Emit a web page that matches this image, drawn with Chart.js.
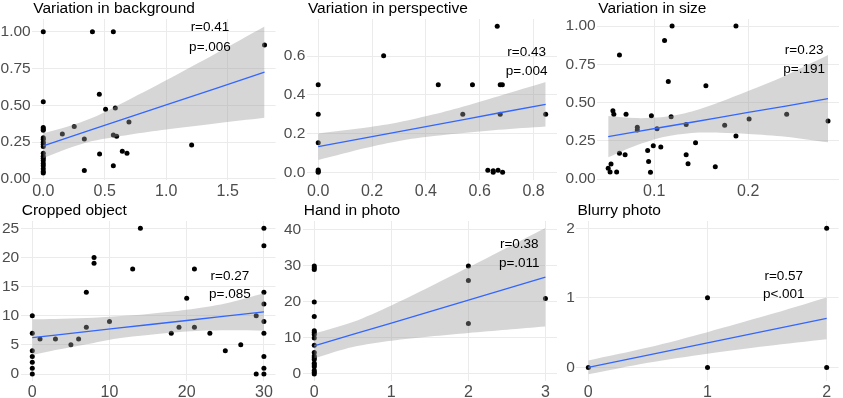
<!DOCTYPE html>
<html>
<head>
<meta charset="utf-8">
<script src="https://cdn.jsdelivr.net/npm/chart.js@4"></script>
<style>
  body { margin: 0; background: #fff; }
  #wrap { position: relative; width: 843px; height: 398px; }
  canvas { position: absolute; }
</style>
</head>
<body>
<div id="wrap">
  <canvas id="p1" width="280" height="199" style="left:0;top:0"></canvas>
  <canvas id="p2" width="281" height="199" style="left:280px;top:0"></canvas>
  <canvas id="p3" width="282" height="199" style="left:561px;top:0"></canvas>
  <canvas id="p4" width="280" height="199" style="left:0;top:199px"></canvas>
  <canvas id="p5" width="281" height="199" style="left:280px;top:199px"></canvas>
  <canvas id="p6" width="282" height="199" style="left:561px;top:199px"></canvas>
</div>
<script>
// --- Variation in background ---
const bgX = [0,0,0,0,0,0,0,0,0,0,0,0,0,0,0,0,0,0,0,
  0.155,0.252,0.334,0.334,0.40,0.456,0.458,0.507,0.57,0.57,0.57,0.586,0.597,0.643,0.681,0.697,1.207,1.80];
const bgY = [1.0,0.525,0.35,0.34,0.33,0.28,0.27,0.25,0.235,0.22,0.175,0.155,0.14,0.125,0.105,0.09,0.07,0.05,0.04,
  0.305,0.357,0.271,0.057,1.0,0.575,0.17,0.473,1.0,0.299,0.09,0.482,0.29,0.188,0.174,0.387,0.231,0.91];
const bgFitX = [0, 0.2, 0.4, 0.7, 1.0, 1.4, 1.8];
const bgFit  = [0.225, 0.281, 0.336, 0.420, 0.503, 0.614, 0.725];
const bgHigh = [0.31, 0.356, 0.415, 0.54, 0.67, 0.85, 1.035];
const bgLow  = [0.14, 0.206, 0.257, 0.30, 0.335, 0.376, 0.415];

// --- Variation in perspective ---
const perX = [0,0,0,0,0,0,
  0.243,0.446,0.537,0.573,0.63,0.65,0.65,0.665,0.668,0.676,0.676,0.684,0.685,0.845];
const perY = [0.452,0.30,0.153,0.012,0.005,0.0,
  0.602,0.452,0.30,0.452,0.01,0.008,0.0,0.753,0.01,0.452,0.30,0.452,0.0,0.30];
const perFitX = [0, 0.18, 0.30, 0.43, 0.55, 0.67, 0.845];
const perFit  = [0.132, 0.179, 0.210, 0.243, 0.274, 0.306, 0.351];
const perHigh = [0.200, 0.231, 0.258, 0.299, 0.344, 0.393, 0.466];
const perLow  = [0.064, 0.127, 0.162, 0.187, 0.204, 0.219, 0.236];

// --- Variation in size ---
const sizeX = [0.051,0.053,0.054,0.056,0.057,0.060,0.063,0.063,0.069,0.070,0.082,0.082,0.093,0.094,0.096,0.097,
  0.099,0.103,0.107,0.111,0.115,0.118,0.119,0.134,0.134,0.136,0.144,0.155,0.165,0.175,0.187,0.187,0.201,0.241,0.285];
const sizeY = [0.07,0.046,0.098,0.447,0.423,0.046,0.168,0.81,0.159,0.423,0.338,0.32,0.187,0.115,0.044,0.414,
  0.218,0.329,0.209,0.906,0.638,0.407,1.0,0.159,0.357,0.10,0.237,0.61,0.08,0.351,1.0,0.281,0.392,0.423,0.379];
const sizeFitX = [0.051, 0.08, 0.11, 0.14, 0.17, 0.2, 0.24, 0.285];
const sizeFit  = [0.277, 0.308, 0.340, 0.371, 0.403, 0.435, 0.477, 0.525];
const sizeHigh = [0.412, 0.398, 0.405, 0.441, 0.503, 0.575, 0.677, 0.81];
const sizeLow  = [0.142, 0.218, 0.275, 0.301, 0.303, 0.295, 0.277, 0.24];

// --- Cropped object ---
const cropX = [0,0,0,0,0,0,0, 1,3,5,6,7,7,8,8,10,13,14,18,19,20,21,21,23,25,27,29,29, 30,30,30,30,30,30,30,30,30];
const cropY = [10,7,4,3,2,1,0, 6,6,5,6,8,14,20,19,9,18,25,7,8,13,18,8,7,4,5,0,10, 25,22,14,12,9,7,3,1,0];
const cropFitX = [0, 3, 7, 11, 15, 20, 25, 30];
const cropFit  = [6.24, 6.68, 7.27, 7.86, 8.45, 9.18, 9.92, 10.65];
const cropHigh = [9.38, 9.44, 9.6, 9.9, 10.3, 11.0, 12.1, 13.85];
const cropLow  = [3.26, 4.1, 5.1, 6.1, 6.7, 7.3, 7.5, 7.44];

// --- Hand in photo ---
const handX = [0,0,0,0,0,0,0,0,0,0,0,0,0,0,0,0,0,0,0,0, 2,2,2,3];
const handY = [30,29.5,29,20,16,12,11.5,11,10,8,6,5,4.5,4,3,2.5,2,1,0.5,0, 30,26,14,21];
const handFitX = [0, 0.5, 1, 1.5, 2, 2.5, 3];
const handFit  = [7.8, 10.98, 14.16, 17.34, 20.52, 23.7, 26.88];
const handHigh = [11.2, 14.43, 19.06, 24.24, 29.62, 35.1, 40.58];
const handLow  = [4.4, 7.53, 9.26, 10.44, 11.42, 12.3, 13.18];

// --- Blurry photo ---
const blurX = [0, 1, 1, 2, 2];
const blurY = [0, 1, 0, 2, 0];
const blurFitX = [0, 0.5, 1, 1.5, 2];
const blurFit  = [0, 0.176, 0.352, 0.528, 0.705];
const blurHigh = [0.1, 0.286, 0.507, 0.748, 1.005];
const blurLow  = [-0.1, 0.066, 0.197, 0.308, 0.405];

// panel titles, stats text and where the text sits (data units)
const titles = ['Variation in background', 'Variation in perspective', 'Variation in size',
                'Cropped object', 'Hand in photo', 'Blurry photo'];
const statR = ['r=0.41', 'r=0.43', 'r=0.23', 'r=0.27', 'r=0.38', 'r=0.57'];
const statP = ['p=.006', 'p=.004', 'p=.191', 'p=.085', 'p=.011', 'p<.001'];
const statX = [1.356, 0.774, 0.2596, 25.6, 2.66, 1.64];
const statRY = [1.03, 0.619, 0.843, 16.8, 36.0, 1.31];
const statPY = [0.896, 0.523, 0.717, 13.7, 30.75, 1.05];

// tick values
const xTicks = [[0, 0.5, 1.0, 1.5], [0, 0.2, 0.4, 0.6, 0.8], [0.1, 0.2], [0, 10, 20, 30], [0, 1, 2, 3], [0, 1, 2]];
const yTicks = [[0, 0.25, 0.5, 0.75, 1.0], [0, 0.2, 0.4, 0.6], [0, 0.25, 0.5, 0.75, 1.0],
                [0, 5, 10, 15, 20, 25], [0, 10, 20, 30, 40], [0, 1, 2]];
const xDigits = [1, 1, 1, 0, 0, 0];
const yDigits = [2, 1, 2, 0, 0, 0];

// axis limits
const xRange = [[-0.09, 1.89], [-0.042, 0.887], [0.0393, 0.2967], [-1.5, 31.5], [-0.15, 3.15], [-0.1, 2.1]];
const yRange = [[-0.007, 1.086], [-0.0397, 0.791], [-0.0065, 1.046], [-1.25, 26.24], [-2.03, 42.5], [-0.2, 2.105]];

// layout of each canvas so the plot panels sit where they do in the picture
const yAxisWidth = [32.2, 26.9, 36.2, 20.7, 22.7, 15.4];
const padRight = [4.4, 3.6, 4, 4.5, 3.8, 4.4];

const pts = [[bgX, bgY], [perX, perY], [sizeX, sizeY], [cropX, cropY], [handX, handY], [blurX, blurY]];
const fits = [
  [bgFitX, bgFit, bgHigh, bgLow], [perFitX, perFit, perHigh, perLow], [sizeFitX, sizeFit, sizeHigh, sizeLow],
  [cropFitX, cropFit, cropHigh, cropLow], [handFitX, handFit, handHigh, handLow], [blurFitX, blurFit, blurHigh, blurLow]
];

const FONT = 'Arial, "Liberation Sans", Helvetica, sans-serif';

function pairs(xs, ys) {
  return xs.map((x, i) => ({ x: x, y: ys[i] }));
}

// draws the panel title and the r / p text
const panelText = {
  id: 'panelText',
  afterDatasetsDraw(chart, args, opts) {
    const ctx = chart.ctx;
    const xs = chart.scales.x, ys = chart.scales.y;
    ctx.save();
    ctx.fillStyle = '#000';
    ctx.font = '15.5px ' + FONT;
    ctx.textAlign = 'left';
    ctx.textBaseline = 'alphabetic';
    ctx.fillText(opts.title, chart.chartArea.left + 1, opts.titleY);
    ctx.font = '13.5px ' + FONT;
    ctx.textAlign = 'center';
    ctx.textBaseline = 'middle';
    const px = xs.getPixelForValue(opts.sx);
    ctx.fillText(opts.r, px, ys.getPixelForValue(opts.ry));
    ctx.fillText(opts.p, px, ys.getPixelForValue(opts.py));
    ctx.restore();
  }
};

function makePanel(i) {
  const row = i < 3 ? 0 : 1;
  const f = fits[i];
  new Chart(document.getElementById('p' + (i + 1)), {
    type: 'scatter',
    data: {
      datasets: [
        { type: 'line', data: pairs(f[0], f[1]), borderColor: '#3366ff', borderWidth: 1.3,
          pointRadius: 0, fill: false },
        { type: 'line', data: pairs(f[0], f[2]), borderWidth: 0, borderColor: 'rgba(0,0,0,0)',
          pointRadius: 0, fill: '+1', backgroundColor: 'rgba(153,153,153,0.4)', tension: 0.3 },
        { type: 'line', data: pairs(f[0], f[3]), borderWidth: 0, borderColor: 'rgba(0,0,0,0)',
          pointRadius: 0, fill: false, tension: 0.3 },
        { data: pairs(pts[i][0], pts[i][1]), backgroundColor: '#000', borderWidth: 0, pointRadius: 2.5 }
      ]
    },
    options: {
      responsive: false,
      animation: false,
      devicePixelRatio: 1,
      layout: { padding: { left: 0, right: padRight[i], top: row === 0 ? 19 : 22, bottom: 0 } },
      plugins: {
        legend: { display: false },
        tooltip: { enabled: false },
        panelText: {
          title: titles[i], titleY: row === 0 ? 13.3 : 16,
          r: statR[i], p: statP[i], sx: statX[i], ry: statRY[i], py: statPY[i]
        }
      },
      scales: {
        x: {
          type: 'linear', min: xRange[i][0], max: xRange[i][1],
          border: { display: false },
          grid: { color: '#ebebeb', lineWidth: 1, drawTicks: false },
          ticks: {
            color: '#4d4d4d', font: { family: FONT, size: 16 }, padding: 2, maxRotation: 0,
            callback: v => Number(v).toFixed(xDigits[i])
          },
          afterBuildTicks: s => { s.ticks = xTicks[i].map(v => ({ value: v })); },
          afterFit: s => { s.height = row === 0 ? 19 : 16.7; }
        },
        y: {
          type: 'linear', min: yRange[i][0], max: yRange[i][1],
          border: { display: false },
          grid: { color: '#ebebeb', lineWidth: 1, drawTicks: false },
          ticks: {
            color: '#4d4d4d', font: { family: FONT, size: 15.5 }, padding: 1.5,
            callback: v => Number(v).toFixed(yDigits[i])
          },
          afterBuildTicks: s => { s.ticks = yTicks[i].map(v => ({ value: v })); },
          afterFit: s => { s.width = yAxisWidth[i]; }
        }
      }
    },
    plugins: [panelText]
  });
}

for (let i = 0; i < 6; i++) makePanel(i);
</script>
</body>
</html>
